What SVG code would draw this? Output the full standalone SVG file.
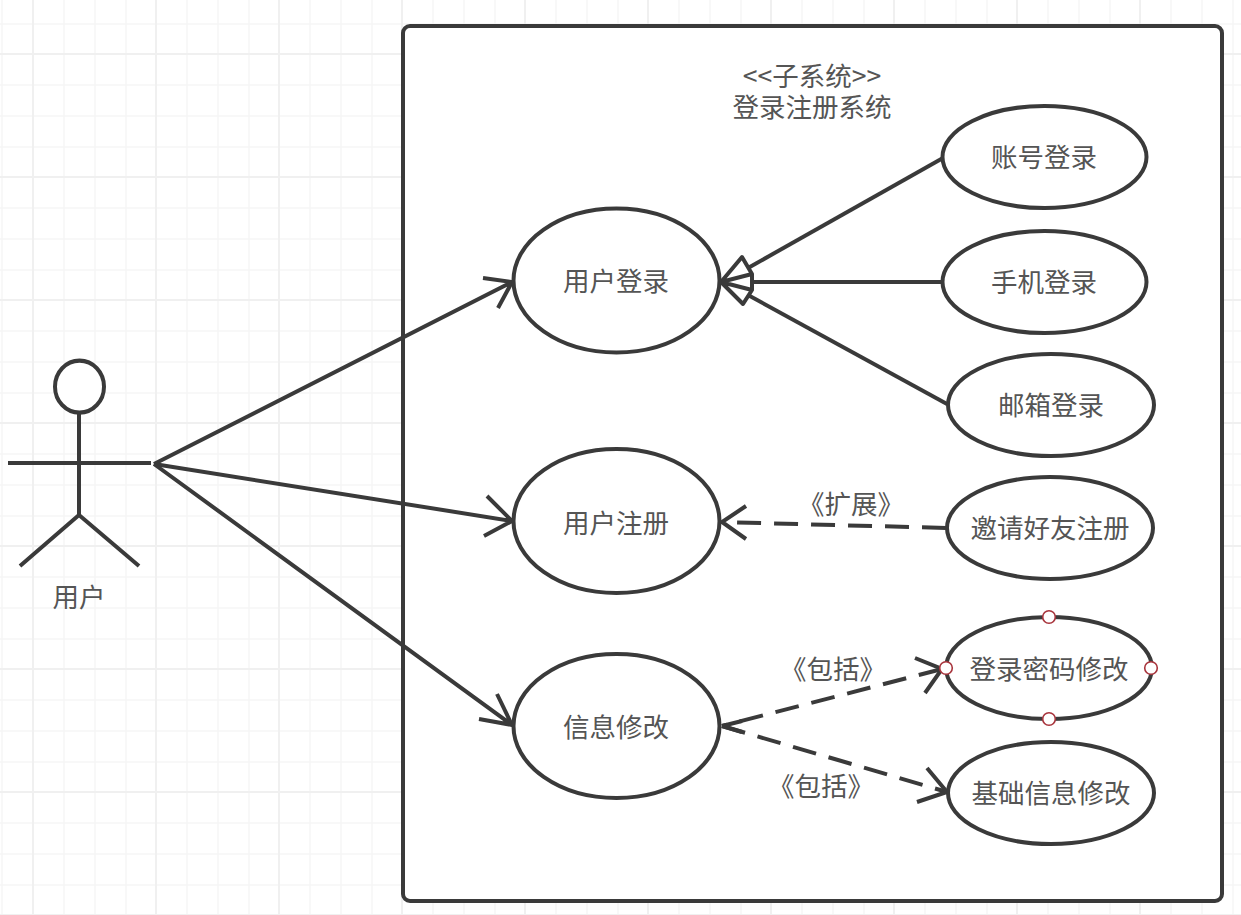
<svg xmlns="http://www.w3.org/2000/svg" width="1241" height="915" viewBox="0 0 1241 915">
<style>
.bg{fill:#fff}
.g1{stroke:#f6f6f6;stroke-width:1.5;fill:none}
.g2{stroke:#f0f0f0;stroke-width:2;fill:none}
.s{fill:none;stroke:#3a3a3a;stroke-width:4;stroke-linecap:butt}
.e{fill:#fff;stroke:#3a3a3a;stroke-width:4}
.d{stroke-dasharray:24 13}
.h{fill:#fff;stroke:#a8343c;stroke-width:1.6}
text{font-family:"Noto Sans CJK SC","Liberation Sans",sans-serif;font-size:26.5px;fill:#555;text-anchor:middle}
</style>
<rect class="bg" width="1241" height="915"/>
<path id="grid-minor" class="g1" d="M2 0V915M64 0V915M95 0V915M126 0V915M187 0V915M218 0V915M249 0V915M310 0V915M341 0V915M372 0V915M433 0V915M464 0V915M495 0V915M556 0V915M587 0V915M618 0V915M679 0V915M710 0V915M741 0V915M802 0V915M833 0V915M864 0V915M925 0V915M956 0V915M987 0V915M1048 0V915M1079 0V915M1110 0V915M1171 0V915M1202 0V915M1233 0V915M0 24H1241M0 85H1241M0 116H1241M0 147H1241M0 208H1241M0 239H1241M0 270H1241M0 331H1241M0 362H1241M0 393H1241M0 454H1241M0 485H1241M0 516H1241M0 577H1241M0 608H1241M0 639H1241M0 700H1241M0 731H1241M0 762H1241M0 823H1241M0 854H1241M0 885H1241"/>
<path id="grid-major" class="g2" d="M33 0V915M156 0V915M279 0V915M402 0V915M525 0V915M648 0V915M771 0V915M894 0V915M1017 0V915M1140 0V915M0 54H1241M0 177H1241M0 300H1241M0 423H1241M0 546H1241M0 669H1241M0 792H1241M0 915H1241"/>
<g id="system">
<rect x="403" y="26" width="819" height="875" rx="7" fill="#fff" stroke="#3a3a3a" stroke-width="4"/>
<text x="812" y="86">&lt;&lt;子系统&gt;&gt;<tspan x="812" dy="31">登录注册系统</tspan></text>
</g>
<g id="connectors">
<path class="s" d="M154 464L512 282M483 278L512 282L498 308"/>
<path class="s" d="M154 464L512 521M487 496L512 521L484 536"/>
<path class="s" d="M154 464L512 725M497 694L512 725L479 719"/>
<path class="s" d="M943 158L748 268"/>
<path class="s" d="M943 282H752"/>
<path class="s" d="M947 404L748 295"/>
<path class="s" stroke-linejoin="round" d="M721 282L742 257L752 274ZM721 282L752 274V290ZM721 282L752 290L743 304Z"/>
<path class="s d" d="M946 528L722 522"/>
<path class="s" d="M746 506L722 522L746 539"/>
<path class="s d" d="M942 669L722 726"/>
<path class="s" d="M915 658L942 669L925 693"/>
<path class="s" d="M722 726L742 721M722 726L742 732"/>
<path class="s d" d="M722 726L947 792"/>
<path class="s" d="M927 768L947 792L917 802"/>
<text x="851" y="514">《扩展》</text>
<text x="833" y="679">《包括》</text>
<text x="821" y="796">《包括》</text>
</g>
<g id="actor">
<circle cx="79.500" cy="386.500" r="24.500" fill="#fff" stroke="#3a3a3a" stroke-width="4" transform="matrix(1 0 0 1.06 0 -23)"/>
<path class="s" d="M79 412V515M8 463H151M79 515L20 566M79 515L139 566"/>
<text x="79" y="607">用户</text>
</g>
<g id="uc-login"><ellipse class="e" cx="616.500" cy="280.500" rx="103" ry="72"/><text x="616" y="291">用户登录</text></g>
<g id="uc-register"><ellipse class="e" cx="616.500" cy="521" rx="103" ry="72"/><text x="616" y="533">用户注册</text></g>
<g id="uc-modify"><ellipse class="e" cx="616.500" cy="726" rx="103" ry="72"/><text x="616" y="737">信息修改</text></g>
<g id="uc-account"><ellipse class="e" cx="1044.500" cy="157" rx="102" ry="51"/><text x="1044" y="167">账号登录</text></g>
<g id="uc-phone"><ellipse class="e" cx="1044.500" cy="282" rx="102" ry="51"/><text x="1044" y="292">手机登录</text></g>
<g id="uc-mail"><ellipse class="e" cx="1051" cy="405" rx="103" ry="51"/><text x="1051" y="415">邮箱登录</text></g>
<g id="uc-invite"><ellipse class="e" cx="1050" cy="528" rx="103" ry="51"/><text x="1050" y="538">邀请好友注册</text></g>
<g id="uc-password"><ellipse class="e" cx="1049" cy="668" rx="103" ry="51"/><text x="1049" y="679">登录密码修改</text>
<circle class="h" cx="1049" cy="617" r="6.300"/><circle class="h" cx="1049" cy="719" r="6.300"/><circle class="h" cx="946" cy="668" r="6.300"/><circle class="h" cx="1151" cy="668" r="6.300"/></g>
<g id="uc-basic"><ellipse class="e" cx="1051" cy="793" rx="103" ry="51"/><text x="1051" y="803">基础信息修改</text></g>
</svg>
